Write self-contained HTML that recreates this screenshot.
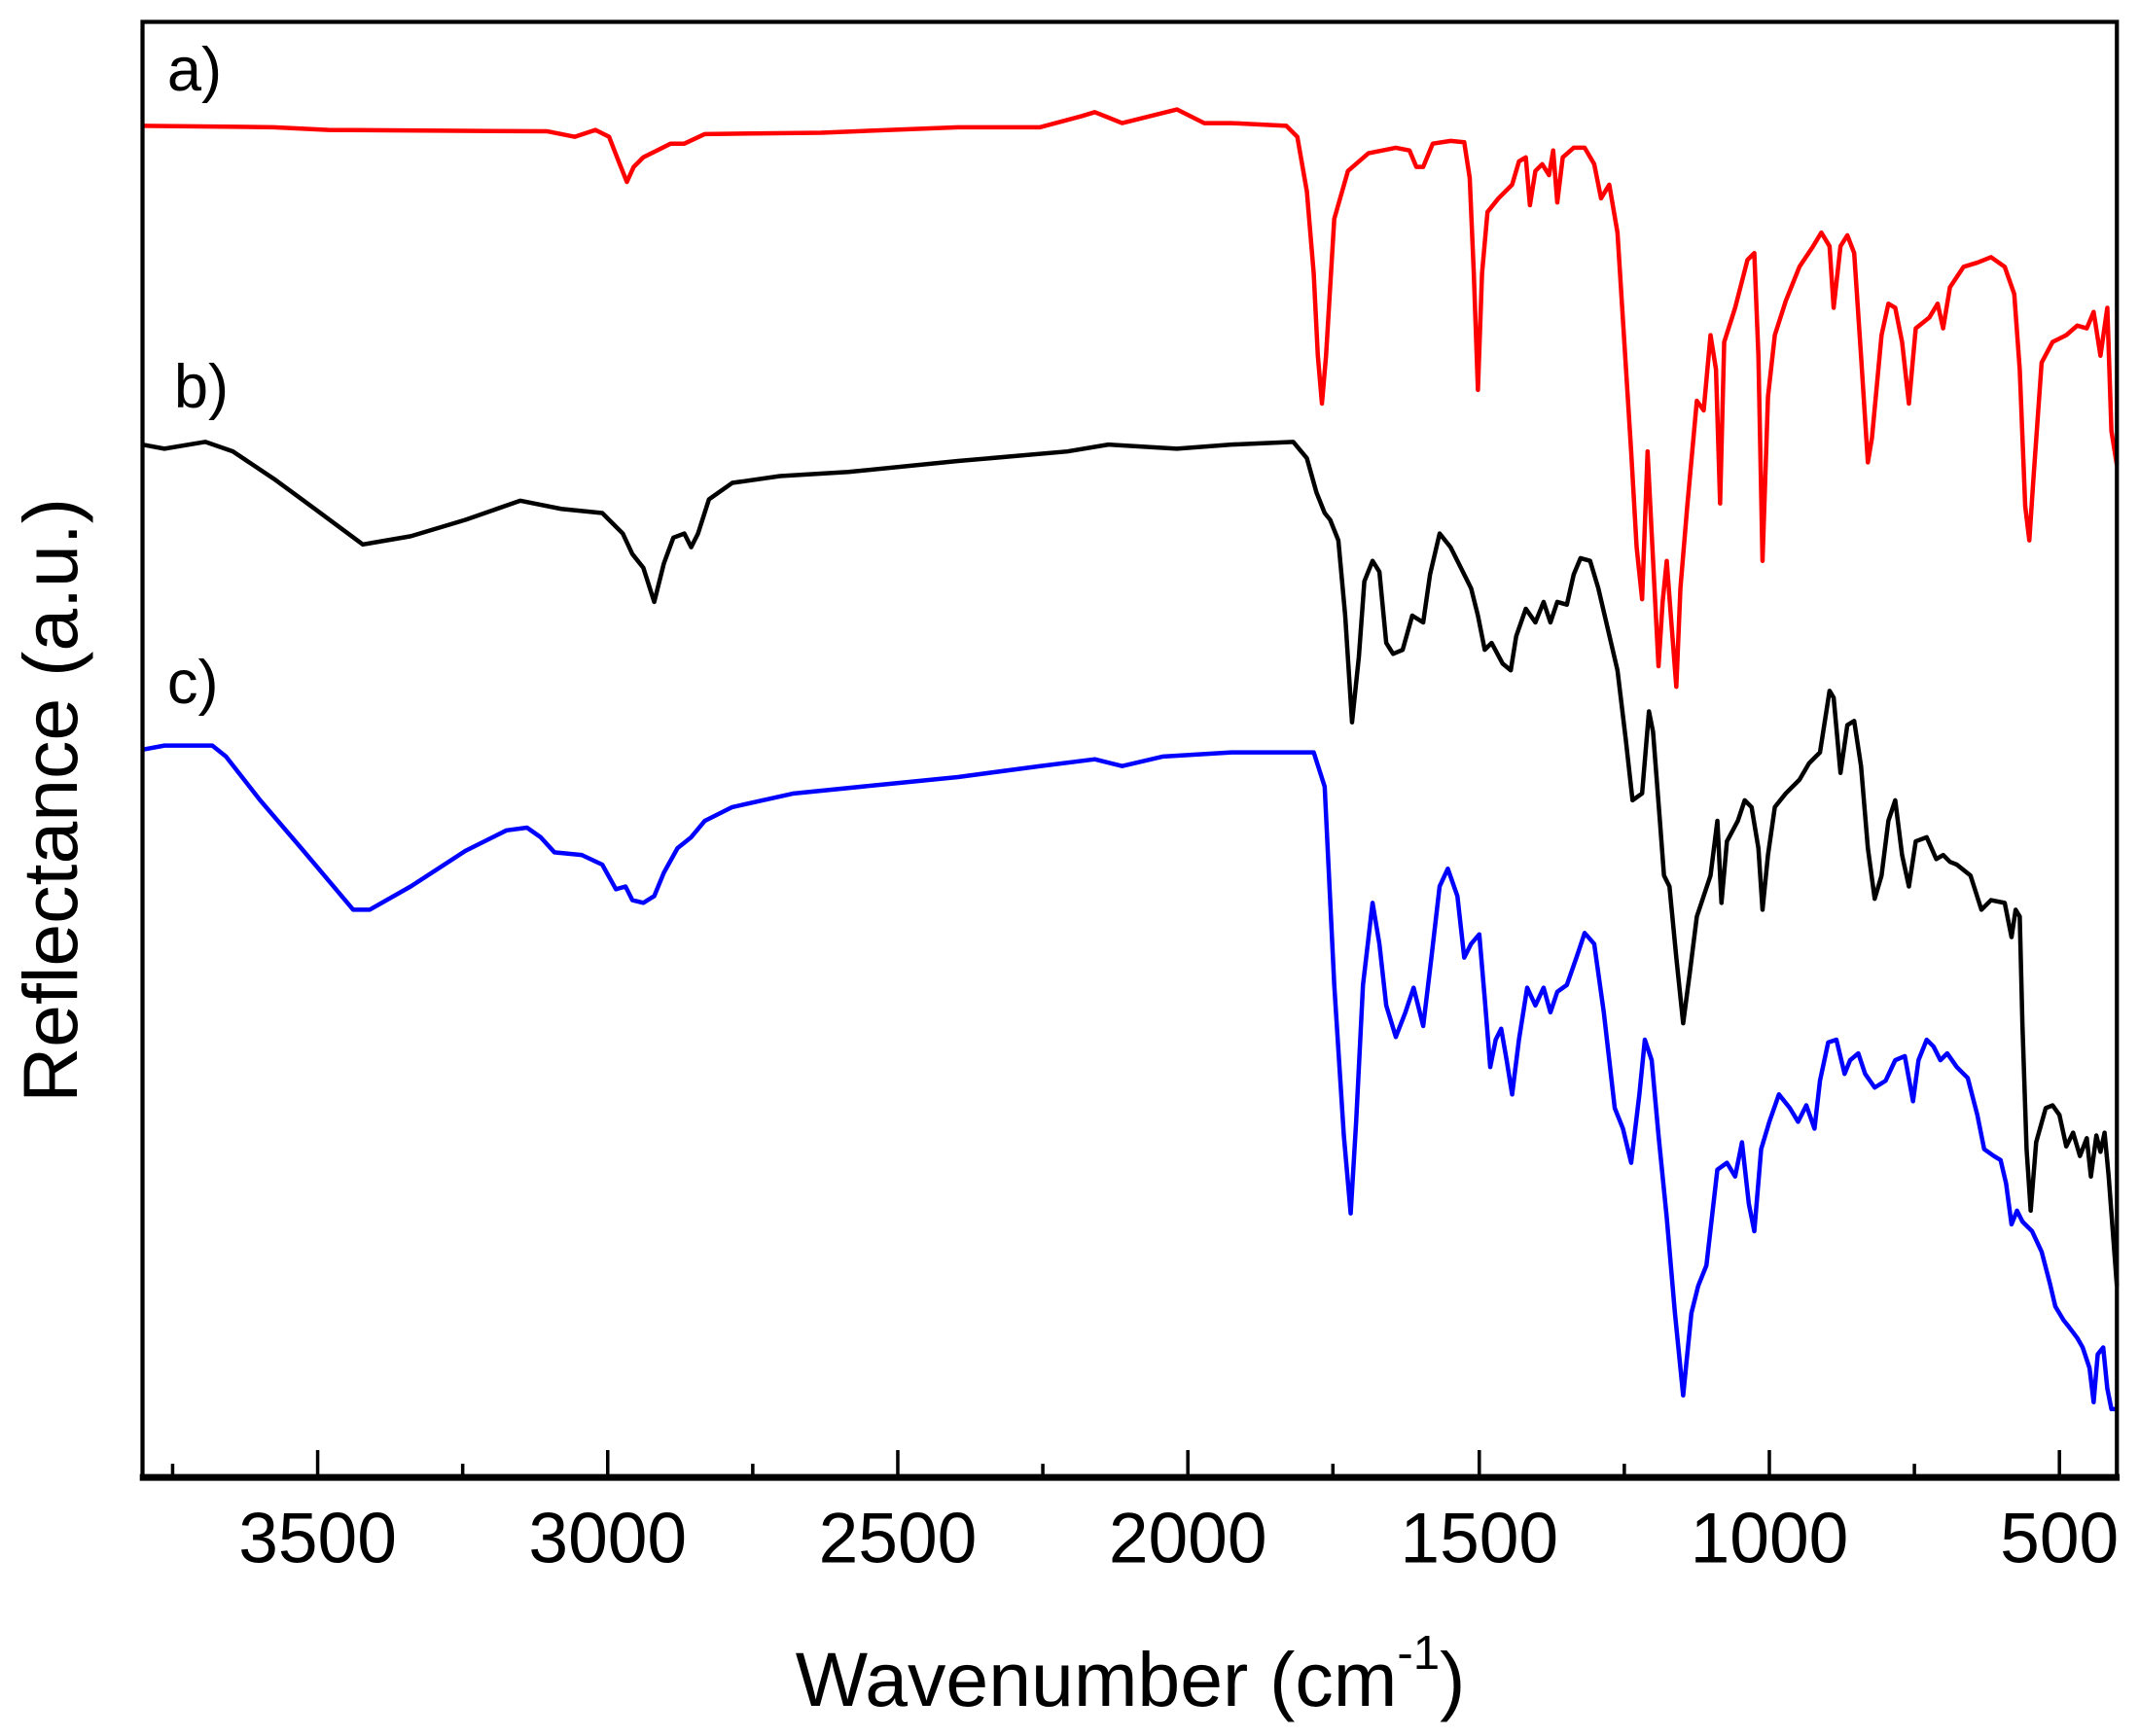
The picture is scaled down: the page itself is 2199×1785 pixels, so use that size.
<!DOCTYPE html>
<html><head><meta charset="utf-8"><style>html,body{margin:0;padding:0;background:#fff}svg{display:block}</style></head>
<body>
<svg width="2199" height="1785" viewBox="0 0 1563 1269" xmlns="http://www.w3.org/2000/svg" font-family="Liberation Sans, Arial, sans-serif">
<rect width="1563" height="1269" fill="#fff"/>
<g fill="none" stroke-width="3.2" stroke-linejoin="round">
<polyline stroke="#f00" points="104,92 200,93 240,95 400,96 420,100 435,95 445,100 452,118 458,133 463,122 470,115 480,110 490,105 500,105 515,98 600,97 700,93 760,93 790,85 800,82 820,90 840,85 860,80 880,90 900,90 940,92 948,100 955,140 960,200 963,260 966,295 969,260 975,160 985,125 1000,112 1020,108 1030,110 1035,122 1040,122 1047,105 1060,103 1070,104 1074,130 1077,200 1080,285 1083,200 1087,155 1095,145 1100,140 1105,135 1110,118 1115,115 1118,150 1122,125 1127,120 1132,128 1135,110 1138,148 1142,115 1150,108 1158,108 1165,120 1170,145 1176,135 1182,170 1187,250 1192,330 1196,400 1200,438 1204,330 1207,390 1212,487 1215,440 1218,410 1221,450 1225,502 1228,430 1233,370 1240,293 1245,300 1250,245 1254,270 1257,368 1260,250 1268,225 1277,190 1282,185 1285,260 1288,410 1292,290 1297,245 1305,220 1315,195 1325,180 1331,170 1337,180 1340,225 1345,180 1350,172 1355,185 1360,260 1365,338 1368,320 1375,245 1380,222 1385,225 1390,250 1395,295 1400,240 1410,232 1416,222 1420,240 1425,210 1435,195 1445,192 1455,188 1465,195 1472,215 1476,270 1480,370 1483,395 1486,350 1492,265 1500,250 1510,245 1518,238 1525,240 1530,228 1535,260 1540,225 1543,315 1547,340"/>
<polyline stroke="#000" points="104,325 120,328 150,323 170,330 200,350 230,372 265,398 300,392 340,380 380,366 410,372 440,375 455,390 462,405 470,415 478,440 485,412 492,393 500,390 505,400 510,390 518,365 535,353 570,348 620,345 700,337 780,330 810,325 860,328 900,325 945,323 955,335 962,360 968,375 972,380 978,395 983,450 988,528 993,480 997,425 1003,410 1008,418 1013,470 1018,478 1025,475 1032,450 1040,455 1045,420 1052,390 1060,400 1070,420 1075,430 1080,450 1085,475 1090,470 1098,485 1104,490 1108,465 1115,445 1122,455 1128,440 1133,455 1138,440 1145,442 1150,420 1155,408 1162,410 1168,430 1175,460 1182,490 1188,540 1193,585 1200,580 1205,520 1208,535 1213,600 1216,640 1220,648 1225,700 1230,748 1235,710 1240,670 1245,655 1250,640 1255,600 1258,660 1262,615 1270,600 1275,585 1280,590 1285,620 1288,665 1292,625 1297,590 1305,580 1315,570 1322,558 1330,550 1337,505 1340,510 1345,565 1350,530 1355,527 1360,560 1365,620 1370,657 1375,640 1380,600 1385,585 1390,625 1395,648 1400,615 1408,612 1415,628 1420,625 1425,630 1430,632 1440,640 1448,665 1455,658 1465,660 1470,685 1473,665 1476,670 1478,750 1481,840 1484,885 1488,835 1495,810 1500,808 1505,815 1510,838 1515,828 1520,845 1525,832 1528,860 1532,830 1535,842 1538,828 1541,860 1544,900 1547,940"/>
<polyline stroke="#00f" points="104,548 120,545 155,545 165,553 190,585 220,620 258,665 270,665 300,648 340,622 370,607 385,605 395,612 405,623 425,625 440,632 450,650 457,648 462,658 470,660 478,655 485,638 495,620 505,612 515,600 535,590 580,580 650,573 700,568 760,560 800,555 820,560 850,553 900,550 960,550 968,575 975,720 982,830 987,887 991,820 996,720 1003,660 1008,690 1013,735 1020,758 1027,740 1033,722 1040,750 1046,700 1052,648 1058,635 1065,655 1070,700 1075,690 1081,683 1085,730 1089,780 1093,760 1097,752 1101,775 1105,800 1110,760 1116,722 1122,735 1128,722 1133,740 1138,725 1145,720 1152,700 1158,682 1165,690 1172,740 1180,810 1186,825 1192,850 1198,800 1202,760 1207,775 1212,830 1218,890 1224,960 1230,1020 1236,960 1241,940 1247,925 1255,855 1262,850 1268,860 1273,835 1278,880 1282,900 1287,840 1293,820 1300,800 1308,810 1314,820 1320,808 1326,825 1330,790 1336,762 1342,760 1348,785 1352,775 1358,770 1363,785 1370,795 1378,790 1385,775 1392,772 1398,805 1402,775 1408,760 1413,765 1418,775 1423,770 1430,780 1438,788 1445,815 1450,840 1457,845 1462,848 1466,865 1470,895 1474,885 1478,893 1485,900 1492,915 1498,938 1502,955 1508,965 1512,970 1518,978 1522,985 1527,1000 1530,1025 1533,990 1537,985 1540,1015 1543,1030 1547,1030"/>
</g>
<rect x="104" y="16" width="1443" height="1064" fill="none" stroke="#000" stroke-width="3"/>
<line x1="102" y1="1080" x2="1549" y2="1080" stroke="#000" stroke-width="5"/>
<g stroke="#000" stroke-width="2.5">
<line x1="232" y1="1080" x2="232" y2="1060"/><line x1="444" y1="1080" x2="444" y2="1060"/><line x1="656" y1="1080" x2="656" y2="1060"/><line x1="868" y1="1080" x2="868" y2="1060"/><line x1="1081" y1="1080" x2="1081" y2="1060"/><line x1="1293" y1="1080" x2="1293" y2="1060"/><line x1="1505" y1="1080" x2="1505" y2="1060"/>
<line x1="126" y1="1080" x2="126" y2="1070"/><line x1="338" y1="1080" x2="338" y2="1070"/><line x1="550" y1="1080" x2="550" y2="1070"/><line x1="762" y1="1080" x2="762" y2="1070"/><line x1="974" y1="1080" x2="974" y2="1070"/><line x1="1187" y1="1080" x2="1187" y2="1070"/><line x1="1399" y1="1080" x2="1399" y2="1070"/>
</g>
<g font-size="52" text-anchor="middle" fill="#000">
<text x="232" y="1142">3500</text><text x="444" y="1142">3000</text><text x="656" y="1142">2500</text><text x="868" y="1142">2000</text><text x="1081" y="1142">1500</text><text x="1293" y="1142">1000</text><text x="1505" y="1142">500</text>
</g>
<text x="826" y="1247" font-size="56" text-anchor="middle">Wavenumber (cm<tspan font-size="35" dy="-27">-1</tspan><tspan dy="27">)</tspan></text>
<text transform="translate(56,585) rotate(-90)" font-size="56" text-anchor="middle">Reflectance (a.u.)</text>
<g font-size="45"><text x="122" y="66">a)</text><text x="127" y="298">b)</text><text x="122" y="514">c)</text></g>
</svg>
</body></html>
